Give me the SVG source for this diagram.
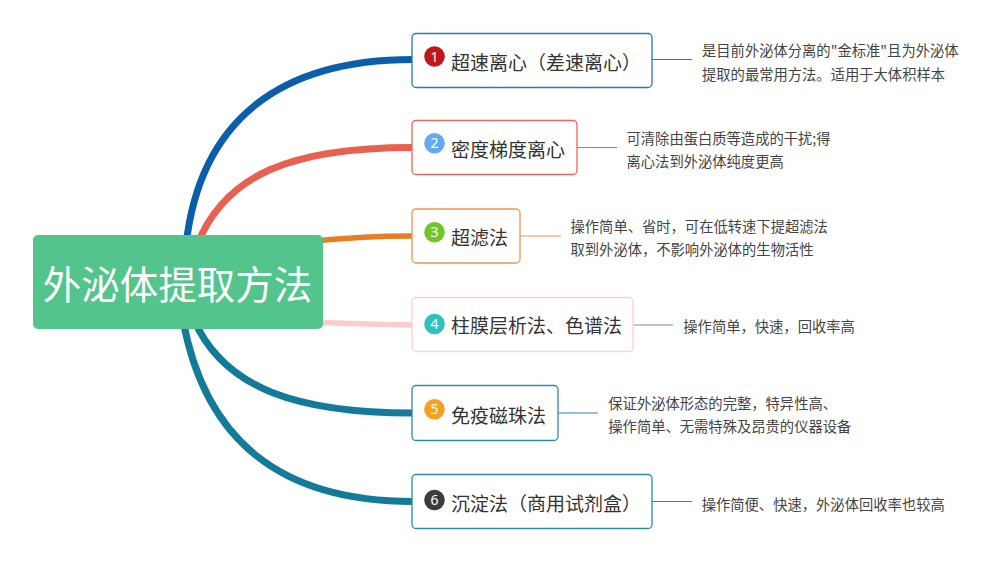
<svg xmlns="http://www.w3.org/2000/svg" width="1007" height="563" viewBox="0 0 1007 563">
<style>
.cjk{font-family:"Noto Sans CJK SC","Noto Sans",sans-serif}
.lbl{font-size:19px;fill:#333333}
.note{font-size:14.3px;fill:#444444}
.num{font-family:"Noto Sans","Liberation Sans",sans-serif;font-size:14px;fill:#ffffff;text-anchor:middle}
.box{fill:#ffffff;stroke-width:1.3}
.br{fill:none;stroke-linecap:butt}
.tie{stroke-width:1.2;fill:none}
</style>
<rect width="1007" height="563" fill="#ffffff"/>
<g id="connectors">
<path class="br" d="M186,245 C200,120 280,59.5 413,59.5" stroke="#0B5FAA" stroke-width="7"/>
<path class="br" d="M197,245 C225,175 290,147.5 413,147.5" stroke="#E8604F" stroke-width="7"/>
<path class="br" d="M300,242 C350,238 370,236 413,236" stroke="#E67E22" stroke-width="5.5"/>
<path class="br" d="M300,322 C350,323 370,325 413,325" stroke="#FFCCCC" stroke-width="5.5"/>
<path class="br" d="M194,320 C225,390 300,413 413,413" stroke="#137A99" stroke-width="7"/>
<path class="br" d="M183,320 C205,440 280,501.5 413,501.5" stroke="#137A99" stroke-width="7"/>
<line class="tie" x1="652" y1="59.5" x2="692" y2="59.5" stroke="#2A75BB"/>
<line class="tie" x1="577" y1="147.5" x2="617" y2="147.5" stroke="#E8675A"/>
<line class="tie" x1="520" y1="236" x2="561" y2="236" stroke="#EE9550"/>
<line class="tie" x1="633" y1="325" x2="673" y2="325" stroke="#8A8A8A"/>
<line class="tie" x1="558" y1="413" x2="598" y2="413" stroke="#2E8AA6"/>
<line class="tie" x1="652" y1="501.5" x2="692" y2="501.5" stroke="#2E8AA6"/>
</g>
<g id="root">
<rect x="33" y="235" width="290" height="94" rx="5" fill="#52C48C"/>
<text class="cjk" x="177.5" y="299" font-size="38.5" fill="#ffffff" text-anchor="middle">外泌体提取方法</text>
</g>
<g id="n1">
<rect class="box" x="412" y="33.5" width="240" height="54" rx="4" stroke="#2A75BB"/>
<circle cx="434.5" cy="56.5" r="10.3" fill="#C0171C"/>
<text class="num" x="434.5" y="61.5">1</text>
<text class="cjk lbl" x="451" y="70">超速离心（差速离心）</text>
<text class="cjk note" x="702" y="55.5">是目前外泌体分离的"金标准"且为外泌体</text>
<text class="cjk note" x="702" y="79.8">提取的最常用方法。适用于大体积样本</text>
</g>
<g id="n2">
<rect class="box" x="412" y="120.5" width="165" height="54" rx="4" stroke="#E8675A"/>
<circle cx="434.5" cy="143.3" r="10.3" fill="#62AAF5"/>
<text class="num" x="434.5" y="148.3">2</text>
<text class="cjk lbl" x="451" y="156.5">密度梯度离心</text>
<text class="cjk note" x="626.5" y="143.8">可清除由蛋白质等造成的干扰;得</text>
<text class="cjk note" x="626.5" y="167.2">离心法到外泌体纯度更高</text>
</g>
<g id="n3">
<rect class="box" x="412" y="209" width="108" height="54" rx="4" stroke="#EE9550"/>
<circle cx="434.5" cy="232.3" r="10.3" fill="#74C52A"/>
<text class="num" x="434.5" y="237.3">3</text>
<text class="cjk lbl" x="451" y="244.5">超滤法</text>
<text class="cjk note" x="570.5" y="231.5">操作简单、省时，可在低转速下提超滤法</text>
<text class="cjk note" x="570.5" y="254.8">取到外泌体，不影响外泌体的生物活性</text>
</g>
<g id="n4">
<rect class="box" x="412" y="297.5" width="221" height="54" rx="4" stroke="#FFD0D0"/>
<circle cx="434.5" cy="324" r="10.3" fill="#2EC1C1"/>
<text class="num" x="434.5" y="329">4</text>
<text class="cjk lbl" x="451" y="333">柱膜层析法、色谱法</text>
<text class="cjk note" x="683.3" y="332">操作简单，快速，回收率高</text>
</g>
<g id="n5">
<rect class="box" x="412" y="385.5" width="146" height="55" rx="4" stroke="#2E8AA6"/>
<circle cx="434.5" cy="409.3" r="10.3" fill="#F7A01C"/>
<text class="num" x="434.5" y="414.3">5</text>
<text class="cjk lbl" x="451" y="423">免疫磁珠法</text>
<text class="cjk note" x="608.3" y="408.8">保证外泌体形态的完整，特异性高、</text>
<text class="cjk note" x="608.3" y="432.2">操作简单、无需特殊及昂贵的仪器设备</text>
</g>
<g id="n6">
<rect class="box" x="412" y="474.5" width="240" height="54" rx="4" stroke="#2E8AA6"/>
<circle cx="434.5" cy="500" r="10.3" fill="#3C3C3C"/>
<text class="num" x="434.5" y="505">6</text>
<text class="cjk lbl" x="451" y="511">沉淀法（商用试剂盒）</text>
<text class="cjk note" x="701.7" y="509.5">操作简便、快速，外泌体回收率也较高</text>
</g>
</svg>
